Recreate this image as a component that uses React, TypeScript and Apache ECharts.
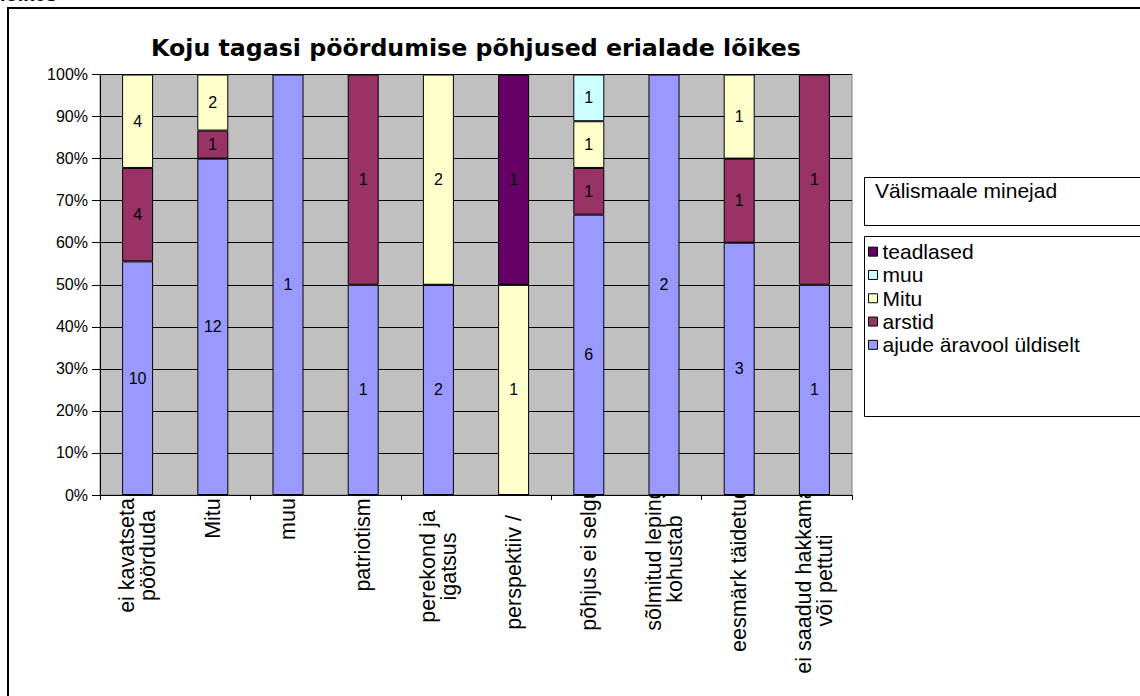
import React, { useEffect, useRef } from 'react';
import * as echarts from 'echarts';

const categories = [
  'ei kavatseta\npöörduda',
  'Mitu',
  'muu',
  'patriotism',
  'perekond ja\nigatsus',
  'perspektiiv /',
  'põhjus ei selgu',
  'sõlmitud leping\nkohustab',
  'eesmärk täidetud',
  'ei saadud hakkama\nvõi pettuti',
];
const seriesNames = ['ajude äravool üldiselt', 'arstid', 'Mitu', 'muu', 'teadlased'];
const ajude = [10, 12, 1, 1, 2, 0, 6, 2, 3, 1];
const arstid = [4, 1, 0, 1, 0, 0, 1, 0, 1, 1];
const mitu = [4, 2, 0, 0, 2, 1, 1, 0, 1, 0];
const muu = [0, 0, 0, 0, 0, 0, 1, 0, 0, 0];
const teadlased = [0, 0, 0, 0, 0, 1, 0, 0, 0, 0];
const seriesColors = ['#9999FF', '#993366', '#FFFFCC', '#CCFFFF', '#660066'];
const legendOrder = ['teadlased', 'muu', 'Mitu', 'arstid', 'ajude äravool üldiselt'];
const title = 'Koju tagasi pöördumise põhjused erialade lõikes';
const legendTitle = 'Välismaale minejad';
const cutText = 'lõikes';

const FONT = '"Liberation Sans", Arial, sans-serif';
const XFS = 21.5;
// label layout (style): short labels start just below the axis; long ones overflow slightly behind the plot
const LABEL_BOX = 124;
const LABEL_GAP = 3;
const LONG_LABEL_GAP = -8;
const labelExtraShift = [0, 0, 0, 0, 12, 17, 0, 0, 0, 0];
const ANCHOR = 100;

export default function App() {
  const ref = useRef<HTMLDivElement>(null);
  useEffect(() => {
    if (!ref.current) return;
    const chart = echarts.init(ref.current, null, { renderer: 'svg' });
    const counts = [ajude, arstid, mitu, muu, teadlased];
    const totals = categories.map((_, i) => counts.reduce((s, arr) => s + arr[i], 0));

    const cv = document.createElement('canvas');
    const ctx = cv.getContext('2d') as CanvasRenderingContext2D;
    ctx.font = `${XFS}px "Liberation Sans", Arial, sans-serif`;
    const rich: any = {};
    const labelKey: Record<string, string> = {};
    categories.forEach((c, i) => {
      const lines = c.split('\n');
      const w = Math.ceil(Math.max(...lines.map((l) => ctx.measureText(l).width)));
      const offset = (w <= LABEL_BOX ? LABEL_GAP : LONG_LABEL_GAP) + labelExtraShift[i];
      rich['w' + i] = {
        width: w,
        align: 'center',
        padding: [0, ANCHOR + offset, 0, 0],
        fontSize: XFS,
        lineHeight: 21,
        fontFamily: FONT,
        color: '#000',
      };
      labelKey[c] = 'w' + i;
    });

    const series = counts.map((arr, si) => ({
      name: seriesNames[si],
      type: 'bar',
      stack: 'total',
      barWidth: 31,
      xAxisIndex: 0,
      itemStyle: { color: seriesColors[si], borderColor: '#000', borderWidth: 1 },
      label: {
        show: true,
        position: 'inside',
        color: '#000',
        fontSize: 16,
        fontFamily: FONT,
        formatter: (p: any) => (p.data && p.data.count ? String(p.data.count) : ''),
      },
      data: arr.map((c, i) => (c ? { value: (c / totals[i]) * 100, count: c } : { value: 0, count: 0 })),
    }));
    chart.setOption({
      animation: false,
      textStyle: { fontFamily: FONT },
      grid: {
        left: 100,
        top: 74.5,
        width: 752,
        height: 420.5,
        show: true,
        backgroundColor: '#C0C0C0',
        borderColor: '#808080',
        borderWidth: 1,
      },
      legend: {
        orient: 'vertical',
        left: 868,
        top: 240,
        padding: 0,
        data: legendOrder,
        icon: 'rect',
        itemWidth: 9,
        itemHeight: 9,
        itemGap: 0,
        itemStyle: { borderColor: '#000', borderWidth: 1 },
        textStyle: { fontSize: 21, lineHeight: 23.3, color: '#000', fontFamily: FONT },
        selectedMode: false,
      },
      xAxis: [
        {
          type: 'category',
          data: categories,
          position: 'bottom',
          z: -1,
          axisLine: { show: false },
          axisTick: { show: false },
          axisLabel: {
            rotate: 90,
            margin: -ANCHOR,
            interval: 0,
            color: '#000',
            fontSize: XFS,
            lineHeight: 21,
            fontFamily: FONT,
            formatter: (v: string) => {
              const k = labelKey[v];
              return v.split('\n').map((l) => `{${k}|${l}}`).join('\n');
            },
            rich,
          },
        },
        {
          type: 'category',
          data: categories,
          position: 'bottom',
          axisLine: { lineStyle: { color: '#000', width: 1 } },
          axisTick: { show: true, length: 5, lineStyle: { color: '#000' } },
          axisLabel: { show: false },
        },
      ],
      yAxis: {
        type: 'value',
        min: 0,
        max: 100,
        interval: 10,
        axisLine: { show: true, lineStyle: { color: '#000', width: 1 } },
        axisTick: { show: true, inside: false, length: 8, lineStyle: { color: '#000' } },
        axisLabel: { formatter: '{value}%', color: '#000', fontSize: 16, margin: 12, fontFamily: FONT },
        splitLine: { show: true, lineStyle: { color: '#000', width: 1 } },
      },
      graphic: [
        {
          type: 'rect',
          shape: { x: 8, y: 8, width: 1140, height: 700 },
          style: { fill: 'none', stroke: '#000', lineWidth: 2 },
          silent: true,
          z: -10,
        },
        {
          type: 'text',
          x: 0,
          y: 4,
          style: { text: cutText, fontSize: 20, fontWeight: 'bold', fontFamily: FONT, fill: '#000', verticalAlign: 'bottom' },
          silent: true,
        },
        {
          type: 'text',
          x: 476,
          y: 48,
          style: {
            text: title,
            fontSize: 23.7,
            fontWeight: 'bold',
            fontFamily: '"DejaVu Sans", Verdana, sans-serif',
            fill: '#000',
            align: 'center',
            verticalAlign: 'middle',
          },
          silent: true,
        },
        {
          type: 'rect',
          shape: { x: 864.5, y: 177.5, width: 300, height: 48 },
          style: { fill: '#fff', stroke: '#000', lineWidth: 1 },
          silent: true,
          z: -5,
        },
        {
          type: 'text',
          x: 875,
          y: 190,
          style: { text: legendTitle, fontSize: 21, fontFamily: FONT, fill: '#000', verticalAlign: 'middle' },
          silent: true,
        },
        {
          type: 'rect',
          shape: { x: 864.5, y: 236.5, width: 300, height: 180 },
          style: { fill: '#fff', stroke: '#000', lineWidth: 1 },
          silent: true,
          z: -5,
        },
      ],
      series,
    });
    return () => chart.dispose();
  }, []);
  return <div ref={ref} style={{ position: 'fixed', left: 0, top: 0, width: 1140, height: 696, background: '#fff' }} />;
}
